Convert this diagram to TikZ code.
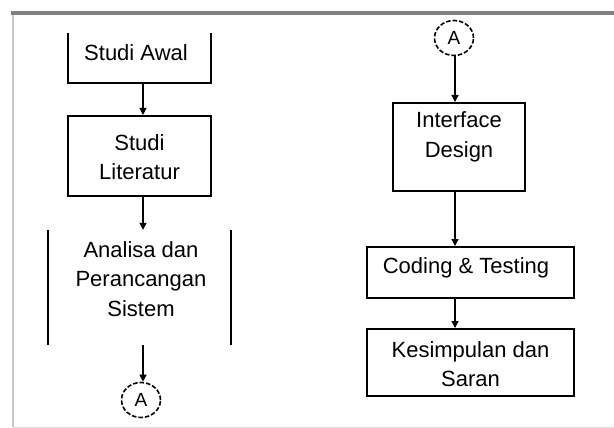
\documentclass[tikz,border=0pt]{standalone}
\usepackage{fontspec}
\setmainfont{Liberation Sans}
\usetikzlibrary{arrows.meta,calc,shapes.geometric}
\tikzset{
  boxshape/.style={draw=black, line width=2pt, inner sep=0pt},
  hidden/.style={draw=none, inner sep=0pt},
  txt/.style={font=\fontsize{22}{29.5}\selectfont, align=center, inner sep=0pt},
  arr/.style={draw=black, line width=1.2pt, -{Triangle[length=7pt,width=7pt]}},
  conn/.style={draw=black, line width=1.6pt, dash pattern=on 4.5pt off 2pt, ellipse, inner sep=0pt},
  frametop/.style={draw=black!50, line width=4pt},
  frameside/.style={draw=black!22, line width=1.5pt},
  framebot/.style={draw=black!12, line width=1pt}
}
\begin{document}
\begin{tikzpicture}[x=1pt,y=-1pt]
\useasboundingbox (0,0) rectangle (614,428);
% frame
\coordinate (ftl) at (11,13);
\coordinate (ftr) at (614,13);
\coordinate (fbl) at (13,427);
\coordinate (fbr) at (614,427);
\draw[frameside] (13,13) -- (fbl);
\draw[framebot] (fbl) -- (fbr);
\draw[frametop] (ftl) -- (ftr);
% left column
\node[hidden, minimum width=143pt, minimum height=50pt] (sa) at (139.5,58) {};
\draw[line width=2pt] (sa.north west) -- (sa.south west) -- (sa.south east) -- (sa.north east);
\node[txt] (sat) at (136,53) {Studi Awal};

\node[boxshape, minimum width=143pt, minimum height=80pt] (sl) at (139.5,156) {};
\node[txt] (slt) at (139.5,157) {Studi\\Literatur};

\node[hidden, minimum width=183pt, minimum height=115pt] (ap) at (139.5,287.5) {};
\draw[line width=2pt] (ap.north west) -- (ap.south west);
\draw[line width=2pt] (ap.north east) -- (ap.south east);
\node[txt] (apt) at (141,279) {Analisa dan\\Perancangan\\Sistem};

\node[conn, minimum width=39pt, minimum height=35pt] (a1) at (141,400) {\fontsize{19}{19}\selectfont A};

\coordinate (lx) at (143,0);
\draw[arr] (sa.south -| lx) -- (sl.north -| lx);
\draw[arr] (sl.south -| lx) -- (ap.north -| lx);
\draw[arr] (ap.south -| lx) -- (a1.north -| lx);

% right column
\node[conn, minimum width=39pt, minimum height=35pt] (a2) at (454,38) {\fontsize{19}{19}\selectfont A};

\node[boxshape, minimum width=132pt, minimum height=88pt] (id) at (459,147) {};
\node[txt] (idt) at (459,137) {Interface\\Design};

\node[boxshape, minimum width=207pt, minimum height=51pt] (ct) at (470.5,272.5) {};
\node[txt] (ctt) at (466,268) {Coding \& Testing};

\node[boxshape, minimum width=207pt, minimum height=67pt] (ks) at (470.5,362.5) {};
\node[txt] (kst) at (470.5,364) {Kesimpulan dan\\Saran};

\coordinate (rx) at (455,0);
\draw[arr] (a2.south -| rx) -- (id.north -| rx);
\draw[arr] (id.south -| rx) -- (ct.north -| rx);
\draw[arr] (ct.south -| rx) -- (ks.north -| rx);
\end{tikzpicture}
\end{document}
